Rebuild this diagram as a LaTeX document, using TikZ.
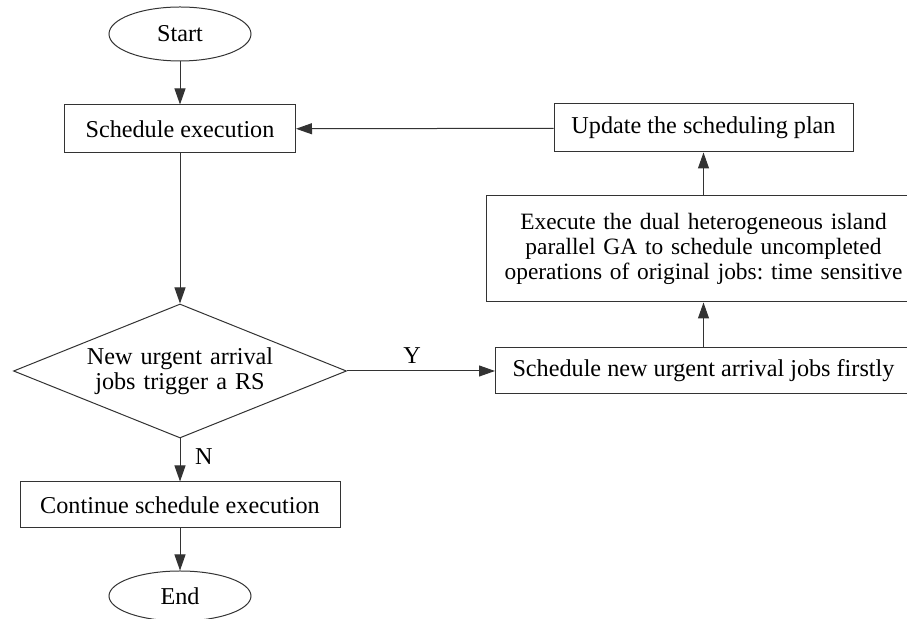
\documentclass[tikz,border=0pt]{standalone}
\usepackage{fontspec}
\setmainfont{Liberation Serif}
\usepackage{tikz}
\usetikzlibrary{shapes.geometric, arrows.meta, positioning}
\frenchspacing
\tikzstyle{rect} = [rectangle, 
			draw=black!80, 
			line width = 0.5pt,
			text centered, 
			inner sep = 0pt,
			minimum height = 24pt]
\tikzstyle{term} = [ellipse, 
			draw=black!80, 
			line width = 0.5pt,
			inner sep = 0pt,
			minimum width = 71pt,
			minimum height = 27pt]
\tikzstyle{decide} = [diamond, 
			draw=black!80, 
			line width = 0.5pt,
			text centered, 
			inner sep = 0pt,
			aspect = 2.5,
			minimum width = 166.5pt,
			minimum height = 67pt]
\tikzstyle{line} = [draw=black!80, line width = 0.5pt, -{Triangle[length=8pt, width=5.5pt]}]

\begin{document}
\begin{tikzpicture}[x=0.5pt, y=-0.5pt, font=\fontsize{12.1}{12.6}\selectfont]
	\clip (0,0) rectangle (907,619);
	\node [term] (start) at (180,34) {Start};
	\node [rect, below=21.5pt of start, minimum width=115.5pt] (sched) {Schedule execution};
	\node [decide, below=75pt of sched, text width=95pt] (rs) {New urgent arrival\\jobs trigger a RS};
	\node [rect, below=21.5pt of rs, minimum width=160pt, minimum height=23pt] (cont) {Continue schedule execution};
	\node [term, below=21pt of cont, minimum height=25pt] (end) {End};
	\node [rect, right=74pt of rs, minimum width=208pt, minimum height=23pt] (urgent) {Schedule new urgent arrival jobs firstly};
	\node [rect, above=22.5pt of urgent, minimum width=217pt, minimum height=53pt, text width=217pt, font=\fontsize{11.7}{12.6}\selectfont] (exec) {Execute the dual heterogeneous island\\parallel GA to schedule uncompleted\\operations of original jobs: time sensitive};
	\node [rect, above=21.5pt of exec, minimum width=149.5pt] (update) {Update the scheduling plan};
	\path [line] (start) -- (sched);
	\path [line] (sched) -- (rs);
	\path [line] (rs) -- node [above, pos=0.44] {Y} (urgent);
	\path [line] (urgent) -- (exec);
	\path [line] (exec) -- (update);
	\path [line] (update) -- (sched);
	\path [line] (rs) -- node [right=4pt, pos=0.42] {N} (cont);
	\path [line] (cont) -- (end);
\end{tikzpicture}
\end{document}
